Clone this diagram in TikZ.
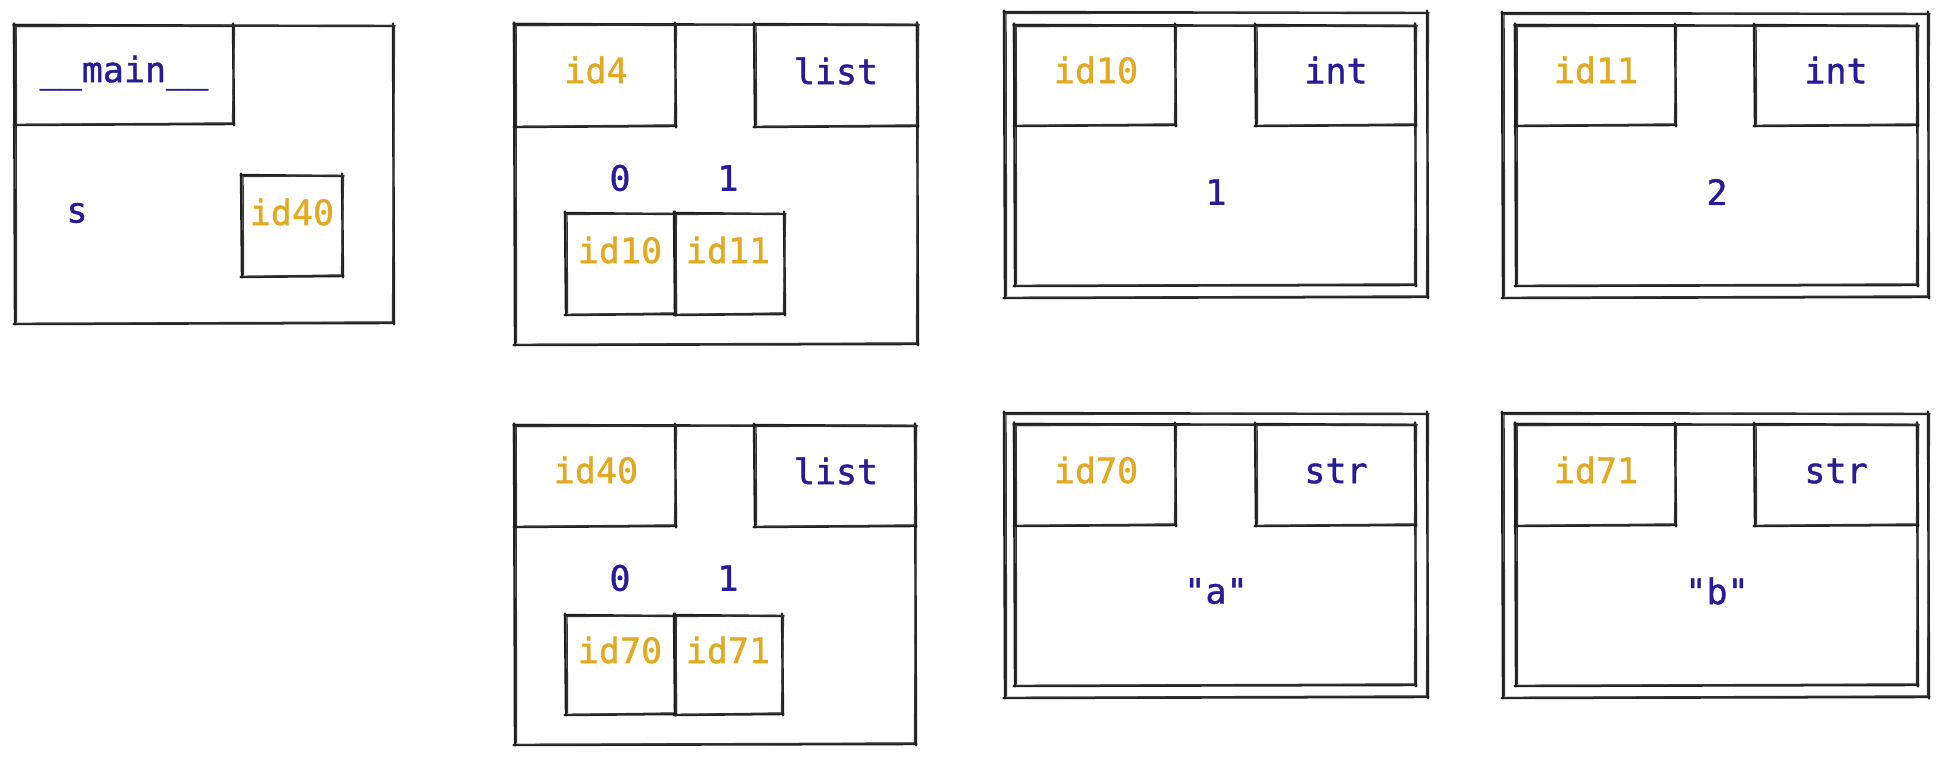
\documentclass[tikz,border=0pt]{standalone}
\usepackage{fontspec}
\newfontfamily\lblfont[FakeBold=1.2]{DejaVu Sans Mono}
\definecolor{gold}{RGB}{226,170,34}
\definecolor{navy}{RGB}{40,28,150}
\tikzset{
  skA/.style={line width=1.2pt, draw=black!88, line cap=round, line join=round},
  skB/.style={line width=0.7pt, draw=black!80, line cap=round},
  lbl/.style={font=\lblfont\fontsize{17.5}{20}\selectfont, inner sep=0pt, anchor=center},
  idt/.style={lbl, text=gold},
  val/.style={lbl, text=navy},
}
% sketchy rectangle: x1 y1 x2 y2 (pixel units, y downward)
\newcommand\skrect[4]{%
  \draw[skA] (#1-1.5,#2) -- (#3+1.5,#2+1);
  \draw[skA] (#3,#2-1.5) -- (#3+1,#4+1.5);
  \draw[skA] (#3+1.5,#4) -- (#1-1.5,#4+1);
  \draw[skA] (#1,#4+1.5) -- (#1-1,#2-1.5);
  \draw[skB] (#1+1,#2+1.5) -- (#3+2,#2+0.5);
  \draw[skB] (#3+1.5,#2+1) -- (#3-0.5,#4-1);
  \draw[skB] (#3-1,#4-1) -- (#1+2,#4+0.5);
  \draw[skB] (#1+1.5,#4-1) -- (#1+1,#2+1);
}
\begin{document}
\begin{tikzpicture}[x=0.5pt,y=-0.5pt]
\useasboundingbox (0,0) rectangle (1952,756);

% ---------- __main__ frame ----------
\skrect{15}{25}{393}{323}
\skrect{15}{25}{233}{124}
\skrect{242}{175}{342}{276}
\node[val] (mainname) at (124,73) {\_\_main\_\_};
\node[val] (vars) at (77,213) {s};
\node[idt] (sref) at (292,212) {id40};

% ---------- id4 list ----------
\skrect{515}{24}{917}{344}
\skrect{515}{24}{675}{126}
\skrect{755}{24}{917}{126}
\skrect{566}{213}{675}{314}
\skrect{675}{213}{784}{314}
\node[idt] (l1id) at (596,70) {id4};
\node[val] (l1type) at (836,71) {list};
\node[val] (l1i0) at (620,178) {0};
\node[val] (l1i1) at (728,178) {1};
\node[idt] (l1c0) at (620,250) {id10};
\node[idt] (l1c1) at (728,250) {id11};

% ---------- id40 list ----------
\skrect{515}{425}{915}{744}
\skrect{515}{425}{675}{526}
\skrect{755}{425}{915}{526}
\skrect{566}{615}{675}{714}
\skrect{675}{615}{782}{714}
\node[idt] (l2id) at (596,470) {id40};
\node[val] (l2type) at (836,471) {list};
\node[val] (l2i0) at (620,578) {0};
\node[val] (l2i1) at (728,578) {1};
\node[idt] (l2c0) at (620,650) {id70};
\node[idt] (l2c1) at (728,650) {id71};

% ---------- id10 int ----------
\skrect{1005}{12}{1427}{297}
\skrect{1015}{25}{1415}{285}
\skrect{1015}{25}{1175}{125}
\skrect{1256}{25}{1415}{125}
\node[idt] (i1id) at (1096,70) {id10};
\node[val] (i1type) at (1336,70) {int};
\node[val] (i1val) at (1216,192) {1};

% ---------- id11 int ----------
\skrect{1503}{13}{1928}{297}
\skrect{1516}{25}{1917}{285}
\skrect{1516}{25}{1675}{125}
\skrect{1755}{25}{1917}{125}
\node[idt] (i2id) at (1596,70) {id11};
\node[val] (i2type) at (1836,70) {int};
\node[val] (i2val) at (1717,192) {2};

% ---------- id70 str ----------
\skrect{1005}{413}{1427}{697}
\skrect{1015}{424}{1415}{685}
\skrect{1015}{424}{1175}{525}
\skrect{1256}{424}{1415}{525}
\node[idt] (s1id) at (1096,470) {id70};
\node[val] (s1type) at (1336,471) {str};
\node[val] (s1val) at (1216,591) {"a"};

% ---------- id71 str ----------
\skrect{1503}{413}{1928}{697}
\skrect{1516}{424}{1917}{685}
\skrect{1516}{424}{1675}{525}
\skrect{1755}{424}{1917}{525}
\node[idt] (s2id) at (1596,470) {id71};
\node[val] (s2type) at (1836,471) {str};
\node[val] (s2val) at (1717,591) {"b"};
\end{tikzpicture}
\end{document}
